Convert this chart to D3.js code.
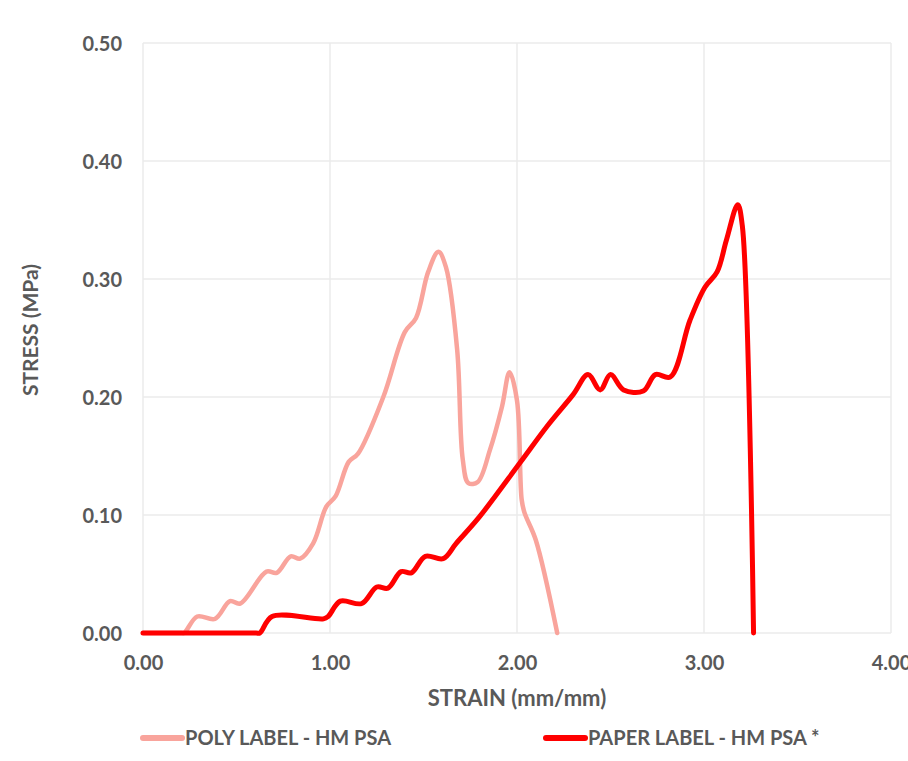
<!DOCTYPE html>
<html>
<head>
<meta charset="UTF-8">
<title>Stress vs strain</title>
<script src="https://d3js.org/d3.v7.min.js"></script>
<style>
  body { margin: 0; background: #fff; }
  text { font-family: Lato, "Open Sans", sans-serif; fill: #595959; }
</style>
</head>
<body>
<svg id="chart"></svg>
<script>
// strain (mm/mm) / stress (MPa)
var polyStrain = [0, 0.15, 0.205, 0.22, 0.29, 0.385, 0.465, 0.52, 0.66, 0.715, 0.79, 0.84, 0.91, 0.98, 1.03, 1.10, 1.15, 1.285, 1.40, 1.46, 1.525, 1.58, 1.62, 1.68, 1.71, 1.74, 1.79, 1.855, 1.92, 1.96, 2.00, 2.025, 2.04, 2.10, 2.215];
var polyStress = [0, 0, 0, 0, 0.014, 0.012, 0.027, 0.025, 0.052, 0.051, 0.065, 0.063, 0.076, 0.107, 0.116, 0.145, 0.152, 0.200, 0.255, 0.267, 0.306, 0.323, 0.310, 0.240, 0.147, 0.127, 0.128, 0.155, 0.192, 0.221, 0.197, 0.113, 0.102, 0.079, 0];

var paperStrain = [0, 0.45, 0.605, 0.625, 0.69, 0.965, 0.99, 1.055, 1.17, 1.25, 1.31, 1.38, 1.435, 1.51, 1.605, 1.675, 1.80, 2.015, 2.16, 2.30, 2.38, 2.445, 2.50, 2.57, 2.675, 2.74, 2.82, 2.925, 3.005, 3.07, 3.12, 3.18, 3.205, 3.265];
var paperStress = [0, 0, 0, 0, 0.014, 0.012, 0.014, 0.027, 0.025, 0.039, 0.038, 0.052, 0.051, 0.065, 0.063, 0.076, 0.0986, 0.144, 0.175, 0.202, 0.219, 0.206, 0.219, 0.206, 0.205, 0.219, 0.217, 0.265, 0.293, 0.306, 0.333, 0.363, 0.345, 0];

var xTicks = [0, 1, 2, 3, 4];
var yTicks = [0, 0.1, 0.2, 0.3, 0.4, 0.5];

var seriesNames = ["POLY LABEL - HM PSA", "PAPER LABEL - HM PSA *"];
var seriesColors = ["#F9A49C", "#FF0000"];

var width = 908, height = 761;
var svg = d3.select("#chart").attr("width", width).attr("height", height);

var x = d3.scaleLinear().domain([0, 4]).range([143, 891]);
var y = d3.scaleLinear().domain([0, 0.5]).range([633, 43]);

// grid
var grid = svg.append("g");
grid.selectAll(".gy").data(yTicks).enter().append("line")
    .attr("x1", x(0)).attr("x2", x(4))
    .attr("y1", function(d) { return y(d); }).attr("y2", function(d) { return y(d); })
    .attr("stroke", "#EBEBEB").attr("stroke-width", 1.5);
grid.selectAll(".gx").data(xTicks).enter().append("line")
    .attr("y1", y(0)).attr("y2", y(0.5))
    .attr("x1", function(d) { return x(d); }).attr("x2", function(d) { return x(d); })
    .attr("stroke", "#EBEBEB").attr("stroke-width", 1.5);

// axes (labels only, Excel style)
var yAxis = svg.append("g").attr("transform", "translate(122,0)")
    .call(d3.axisLeft(y).tickValues(yTicks).tickFormat(d3.format(".2f")).tickSize(0).tickPadding(0));
yAxis.select(".domain").remove();
yAxis.selectAll("text").attr("font-size", 20).attr("font-weight", 700).attr("dy", "0.35em");

var xAxis = svg.append("g").attr("transform", "translate(0,663)")
    .call(d3.axisBottom(x).tickValues(xTicks).tickFormat(d3.format(".2f")).tickSize(0).tickPadding(0));
xAxis.select(".domain").remove();
xAxis.selectAll("text").attr("font-size", 20).attr("font-weight", 700).attr("dy", "0.35em");

svg.append("text")
    .attr("x", 517).attr("y", 698).attr("dy", "0.35em")
    .attr("text-anchor", "middle")
    .attr("font-size", 22).attr("font-weight", 700)
    .text("STRAIN (mm/mm)");

svg.append("text")
    .attr("transform", "translate(31,330) rotate(-90)")
    .attr("dy", "0.35em")
    .attr("text-anchor", "middle")
    .attr("font-size", 21).attr("font-weight", 700)
    .text("STRESS (MPa)");

// lines
var line = d3.line()
    .x(function(d) { return x(d[0]); })
    .y(function(d) { return y(d[1]); })
    .curve(d3.curveCatmullRom.alpha(0.5));

var polyData = polyStrain.map(function(s, i) { return [s, polyStress[i]]; });
var paperData = paperStrain.map(function(s, i) { return [s, paperStress[i]]; });

svg.append("path").datum(polyData)
    .attr("d", line).attr("fill", "none")
    .attr("stroke", seriesColors[0]).attr("stroke-width", 4.5)
    .attr("stroke-linejoin", "round").attr("stroke-linecap", "round");
svg.append("path").datum(paperData)
    .attr("d", line).attr("fill", "none")
    .attr("stroke", seriesColors[1]).attr("stroke-width", 5)
    .attr("stroke-linejoin", "round").attr("stroke-linecap", "round");

// legend
var legendX = [140, 543];
var legend = svg.selectAll(".legend").data(seriesNames).enter().append("g")
    .attr("transform", function(d, i) { return "translate(" + legendX[i] + ",738)"; });
legend.append("line")
    .attr("x1", 3).attr("x2", 42).attr("y1", 0).attr("y2", 0)
    .attr("stroke", function(d, i) { return seriesColors[i]; })
    .attr("stroke-width", 6).attr("stroke-linecap", "round");
legend.append("text")
    .attr("x", 45).attr("y", 0).attr("dy", "0.35em")
    .attr("font-size", 20).attr("font-weight", 700)
    .text(function(d) { return d; });
</script>
</body>
</html>
